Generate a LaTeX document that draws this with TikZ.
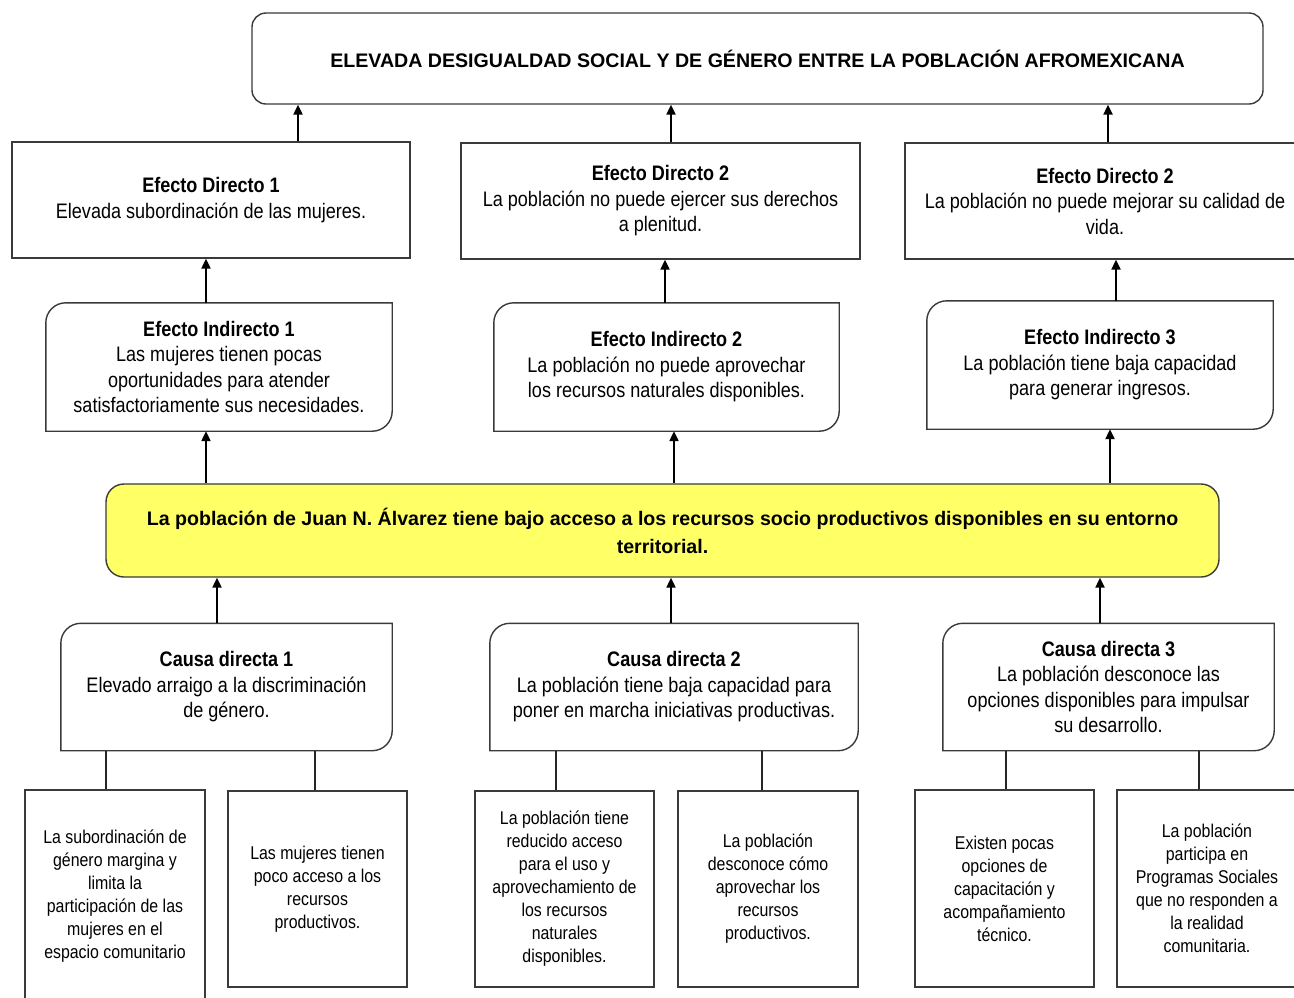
\documentclass[tikz,border=0pt]{standalone}
\usepackage{fontspec}
\setmainfont{Liberation Sans}[FakeStretch=0.86]
\newfontfamily\titlefont{Liberation Sans}
\usetikzlibrary{arrows.meta}
\definecolor{boxc}{HTML}{3A3A3A}
\definecolor{yel}{HTML}{FFFF66}
\tikzset{
  bline/.style={draw=boxc, line width=1.4pt},
  sq/.style={bline, fill=white, align=center, inner sep=0pt},
  txt/.style={align=center, inner sep=0pt},
  body/.style={font=\fontsize{21}{25.5}\selectfont},
  small/.style={font=\fontsize{18.5}{23}\selectfont},
  arr/.style={line width=2.2pt, draw=black, -{Triangle[width=9pt,length=10pt]}},
  ln/.style={line width=2pt, draw=black!85},
}
\newcommand\rcbox[1]{%
  \draw[bline] (#1.north) [rounded corners=20pt] -- (#1.north west)
    [sharp corners] -- (#1.south west) [rounded corners=20pt] -- (#1.south east)
    [sharp corners] -- (#1.north east) -- cycle;}
\begin{document}
\begin{tikzpicture}[x=1pt,y=-1pt]
\useasboundingbox (0,0) rectangle (1294,997);

% top
\node[sq, rounded corners=14pt, minimum width=1011pt, minimum height=91pt] (top) at (757.5,58.5)
  {\titlefont\bfseries\fontsize{19.6}{24}\selectfont ELEVADA DESIGUALDAD SOCIAL Y DE GÉNERO ENTRE LA POBLACIÓN AFROMEXICANA};

% direct effects
\node[sq, body, minimum width=398pt, minimum height=116pt] (ed1) at (211,200)
  {\textbf{Efecto Directo 1}\\Elevada subordinación de las mujeres.};
\node[sq, body, minimum width=399pt, minimum height=116pt] (ed2) at (660.5,201)
  {\textbf{Efecto Directo 2}\\La población no puede ejercer sus derechos\\a plenitud.};
\node[sq, body, minimum width=400pt, minimum height=116pt] (ed3) at (1105,201)
  {\textbf{Efecto Directo 2}\\La población no puede mejorar su calidad de\\vida.};

% indirect effects
\node[txt, body, minimum width=346pt, minimum height=128pt] (ei1) at (219,367)
  {\textbf{Efecto Indirecto 1}\\Las mujeres tienen pocas\\oportunidades para atender\\satisfactoriamente sus necesidades.};
\node[txt, body, minimum width=345pt, minimum height=128pt] (ei2) at (666.5,367)
  {\textbf{Efecto Indirecto 2}\\La población no puede aprovechar\\los recursos naturales disponibles.};
\node[txt, body, minimum width=346pt, minimum height=128pt] (ei3) at (1100,365)
  {\textbf{Efecto Indirecto 3}\\La población tiene baja capacidad\\para generar ingresos.};
\rcbox{ei1}\rcbox{ei2}\rcbox{ei3}

% central problem
\node[sq, fill=yel, rounded corners=18pt, minimum width=1113pt, minimum height=93pt,
  font=\titlefont\bfseries\fontsize{19.6}{28}\selectfont] (prob) at (662.5,530.5)
  {La población de Juan N. Álvarez tiene bajo acceso a los recursos socio productivos disponibles en su entorno\\territorial.};

% direct causes
\node[txt, body, minimum width=331pt, minimum height=127pt] (cd1) at (226.5,687)
  {\textbf{Causa directa 1}\\Elevado arraigo a la discriminación\\de género.};
\node[txt, body, minimum width=368pt, minimum height=127pt] (cd2) at (674,687)
  {\textbf{Causa directa 2}\\La población tiene baja capacidad para\\poner en marcha iniciativas productivas.};
\node[txt, body, minimum width=331pt, minimum height=127pt] (cd3) at (1108.5,687)
  {\textbf{Causa directa 3}\\La población desconoce las\\opciones disponibles para impulsar\\su desarrollo.};
\rcbox{cd1}\rcbox{cd2}\rcbox{cd3}

% sub causes
\node[sq, small, minimum width=180pt, minimum height=213pt] (sl1) at (115,896.5)
  {La subordinación de\\género margina y\\limita la\\participación de las\\mujeres en el\\espacio comunitario};
\node[sq, small, minimum width=179pt, minimum height=196pt] (sl2) at (317.5,889)
  {Las mujeres tienen\\poco acceso a los\\recursos\\productivos.};
\node[sq, small, minimum width=179pt, minimum height=196pt] (sm1) at (564.5,889)
  {La población tiene\\reducido acceso\\para el uso y\\aprovechamiento de\\los recursos\\naturales\\disponibles.};
\node[sq, small, minimum width=180pt, minimum height=196pt] (sm2) at (768,889)
  {La población\\desconoce cómo\\aprovechar los\\recursos\\productivos.};
\node[sq, small, minimum width=179pt, minimum height=197pt] (sr1) at (1004.5,888.5)
  {Existen pocas\\opciones de\\capacitación y\\acompañamiento\\técnico.};
\node[sq, small, minimum width=180pt, minimum height=197pt] (sr2) at (1207,888.5)
  {La población\\participa en\\Programas Sociales\\que no responden a\\la realidad\\comunitaria.};

% connector columns
\coordinate (a1) at (298,0);  \coordinate (a2) at (671,0);  \coordinate (a3) at (1108,0);
\coordinate (b1) at (206,0);  \coordinate (b2) at (665,0);  \coordinate (b3) at (1116,0);
\coordinate (c1) at (206,0);  \coordinate (c2) at (674,0);  \coordinate (c3) at (1110,0);
\coordinate (d1) at (217,0);  \coordinate (d2) at (671,0);  \coordinate (d3) at (1100,0);
\coordinate (e1) at (106,0);  \coordinate (e2) at (315,0);  \coordinate (e3) at (556,0);
\coordinate (e4) at (762,0);  \coordinate (e5) at (1006,0); \coordinate (e6) at (1199,0);

\draw[arr] (ed1.north -| a1) -- (top.south -| a1);
\draw[arr] (ed2.north -| a2) -- (top.south -| a2);
\draw[arr] (ed3.north -| a3) -- (top.south -| a3);
\draw[arr] (ei1.north -| b1) -- (ed1.south -| b1);
\draw[arr] (ei2.north -| b2) -- (ed2.south -| b2);
\draw[arr] (ei3.north -| b3) -- (ed3.south -| b3);
\draw[arr] (prob.north -| c1) -- (ei1.south -| c1);
\draw[arr] (prob.north -| c2) -- (ei2.south -| c2);
\draw[arr] (prob.north -| c3) -- (ei3.south -| c3);
\draw[arr] (cd1.north -| d1) -- (prob.south -| d1);
\draw[arr] (cd2.north -| d2) -- (prob.south -| d2);
\draw[arr] (cd3.north -| d3) -- (prob.south -| d3);
\draw[ln] (cd1.south -| e1) -- (sl1.north -| e1);
\draw[ln] (cd1.south -| e2) -- (sl2.north -| e2);
\draw[ln] (cd2.south -| e3) -- (sm1.north -| e3);
\draw[ln] (cd2.south -| e4) -- (sm2.north -| e4);
\draw[ln] (cd3.south -| e5) -- (sr1.north -| e5);
\draw[ln] (cd3.south -| e6) -- (sr2.north -| e6);
\end{tikzpicture}
\end{document}
